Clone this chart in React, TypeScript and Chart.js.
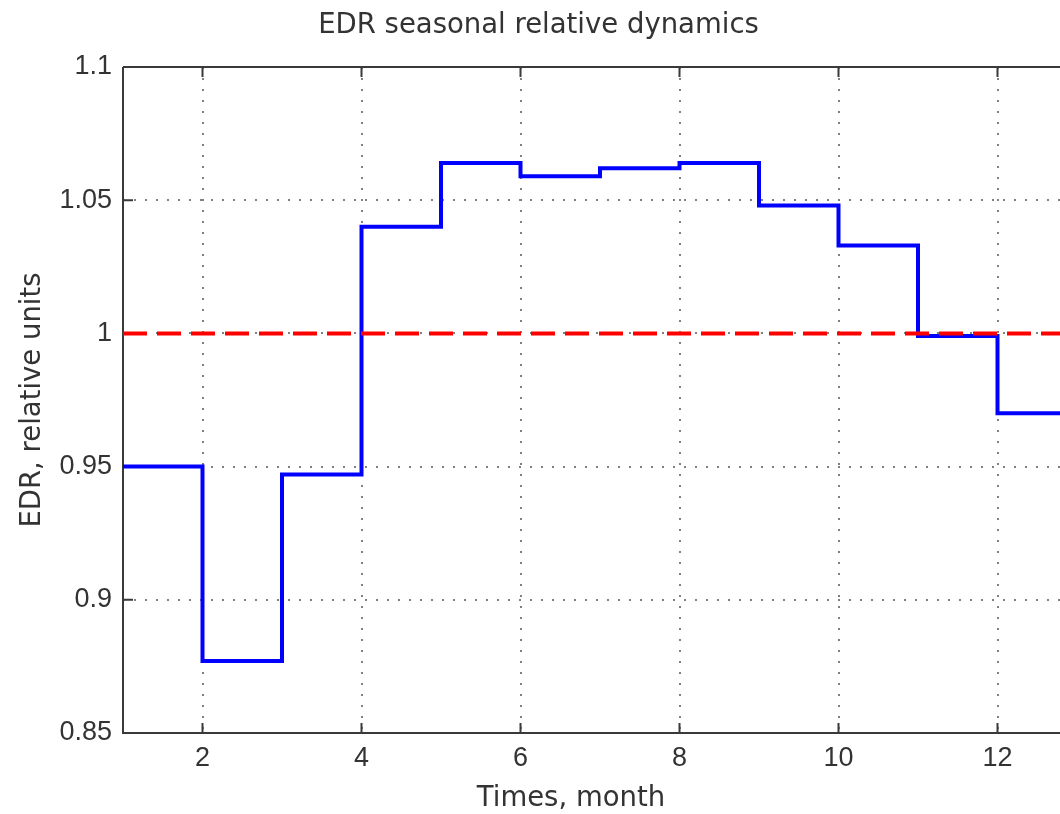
import { useEffect, useRef } from "react";
import { Chart, registerables } from "chart.js";

Chart.register(...registerables);

// ---- data ----
const months = [1, 2, 3, 4, 5, 6, 7, 8, 9, 10, 11, 12, 13];
const edrValues = [0.950, 0.877, 0.947, 1.040, 1.064, 1.059, 1.062, 1.064, 1.048, 1.033, 0.999, 0.970, 0.970];
const referenceMonths = [1, 13];
const referenceLevel = [1, 1];
const xTickValues = [2, 4, 6, 8, 10, 12];
const yTickValues = [0.85, 0.9, 0.95, 1, 1.05, 1.1];
const yTickLabels = ["0.85", "0.9", "0.95", "1", "1.05", "1.1"];

const chartTitle = "EDR seasonal relative dynamics";
const xAxisTitle = "Times, month";
const yAxisTitle = "EDR, relative units";

const TEXT_COLOR = "#333333";
const AXIS_COLOR = "#3a3a3a";
const GRID_COLOR = "#808080";

const boxPlugin = {
  id: "matlabBox",
  beforeDatasetsDraw(chart: any) {
    const { ctx, chartArea } = chart;
    const { left, right, top, bottom } = chartArea;
    const xs = chart.scales.x;
    const ys = chart.scales.y;
    ctx.save();
    ctx.strokeStyle = AXIS_COLOR;
    ctx.lineWidth = 2;
    ctx.setLineDash([]);
    ctx.beginPath();
    ctx.moveTo(left, top);
    ctx.lineTo(right, top);
    ctx.moveTo(left, top);
    ctx.lineTo(left, bottom);
    ctx.lineTo(right, bottom);
    ctx.moveTo(right, top);
    ctx.lineTo(right, bottom);
    ctx.stroke();
    const tick = 10;
    ctx.beginPath();
    xTickValues.forEach((v) => {
      const px = xs.getPixelForValue(v);
      ctx.moveTo(px, bottom);
      ctx.lineTo(px, bottom - tick);
      ctx.moveTo(px, top);
      ctx.lineTo(px, top + tick);
    });
    yTickValues.forEach((v) => {
      const py = ys.getPixelForValue(v);
      ctx.moveTo(left, py);
      ctx.lineTo(left + tick, py);
      ctx.moveTo(right, py);
      ctx.lineTo(right - tick, py);
    });
    ctx.stroke();
    ctx.restore();
  },
  afterDraw(chart: any) {
    const { ctx, chartArea } = chart;
    ctx.save();
    ctx.font = '27.5px "DejaVu Sans"';
    ctx.fillStyle = TEXT_COLOR;
    ctx.textAlign = "center";
    ctx.textBaseline = "alphabetic";
    ctx.fillText(xAxisTitle, chartArea.left + 448, chartArea.bottom + 73);
    ctx.restore();
  },
};

export default function App() {
  const canvasRef = useRef<HTMLCanvasElement | null>(null);

  useEffect(() => {
    if (!canvasRef.current) return;
    const edrPoints = months.map((m, i) => ({ x: m, y: edrValues[i] }));
    const refPoints = referenceMonths.map((m, i) => ({ x: m, y: referenceLevel[i] }));

    const chart = new Chart(canvasRef.current, {
      type: "line",
      data: {
        datasets: [
          {
            label: "Reference level",
            data: refPoints,
            borderColor: "#ff0000",
            borderWidth: 4,
            borderDash: [24, 10],
            pointRadius: 0,
            fill: false,
          },
          {
            label: "EDR",
            data: edrPoints,
            borderColor: "#0000ff",
            borderWidth: 4,
            stepped: "before",
            pointRadius: 0,
            fill: false,
          },
        ],
      },
      plugins: [boxPlugin],
      options: {
        responsive: false,
        animation: false,
        devicePixelRatio: 1,
        layout: { padding: 0 },
        plugins: {
          legend: { display: false },
          tooltip: { enabled: false },
          title: {
            display: true,
            text: chartTitle,
            color: TEXT_COLOR,
            font: { family: "DejaVu Sans", size: 27.5, weight: "normal", lineHeight: 1.2 },
            padding: { top: 9, bottom: 25 },
          },
        },
        scales: {
          x: {
            type: "linear",
            min: 1,
            max: 13,
            afterBuildTicks: (scale: any) => {
              scale.ticks = xTickValues.map((v) => ({ value: v }));
            },
            afterFit: (scale: any) => {
              scale.height = 81;
            },
            grid: { color: GRID_COLOR, lineWidth: 2, drawTicks: false },
            border: { display: false, dash: [2, 9] },
            ticks: {
              color: TEXT_COLOR,
              padding: 9,
              maxRotation: 0,
              autoSkip: false,
              font: { family: "Liberation Sans", size: 27 },
              callback: (v: any) => String(v),
            },
            title: { display: false },
          },
          y: {
            type: "linear",
            min: 0.85,
            max: 1.1,
            afterBuildTicks: (scale: any) => {
              scale.ticks = yTickValues.map((v) => ({ value: v }));
            },
            afterFit: (scale: any) => {
              scale.width = 123;
            },
            grid: { color: GRID_COLOR, lineWidth: 2, drawTicks: false },
            border: { display: false, dash: [2, 9] },
            ticks: {
              color: TEXT_COLOR,
              padding: 11,
              autoSkip: false,
              font: { family: "Liberation Sans", size: 27 },
              callback: (v: any) => {
                const idx = yTickValues.findIndex((t) => Math.abs(t - Number(v)) < 1e-9);
                return idx >= 0 ? yTickLabels[idx] : "";
              },
            },
            title: {
              display: true,
              text: yAxisTitle,
              color: TEXT_COLOR,
              font: { family: "DejaVu Sans", size: 27.5, weight: "normal", lineHeight: 1.2 },
              padding: { top: 16, bottom: 0 },
            },
          },
        },
      },
    } as any);

    return () => chart.destroy();
  }, []);

  return (
    <div
      style={{
        position: "fixed",
        left: 0,
        top: 0,
        width: 1060,
        height: 814,
        overflow: "hidden",
        background: "#ffffff",
      }}
    >
      <canvas ref={canvasRef} width={1077} height={814} style={{ display: "block" }} />
    </div>
  );
}
